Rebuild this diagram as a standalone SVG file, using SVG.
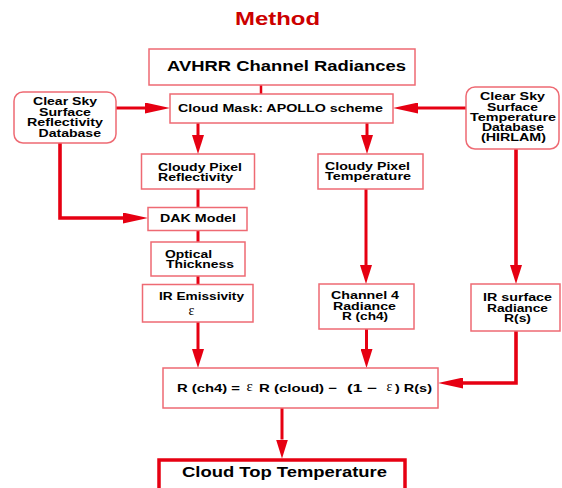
<svg xmlns="http://www.w3.org/2000/svg" width="562" height="488" viewBox="0 0 562 488">
<style>
text{font-family:"Liberation Sans",Arial,sans-serif;font-weight:bold;fill:#000}
.t{font-size:11px}
.m{font-size:10px}
.big{font-size:14px}
.eps{font-family:"Liberation Serif","Times New Roman",serif;font-weight:normal;font-size:14px}
.box{fill:#fff;stroke:#ee6a73;stroke-width:1.5}
.con{fill:none;stroke:#e60012;stroke-width:3}
.thin{stroke-width:2.5}
.thick{stroke-width:3.6}
</style>
<defs>
<marker id="ah" markerUnits="userSpaceOnUse" markerWidth="25" markerHeight="11" refX="0" refY="5.5" orient="auto"><path d="M0,0L25,5.5L0,11z" fill="#e60012"/></marker>
<marker id="av" markerUnits="userSpaceOnUse" markerWidth="19" markerHeight="12" refX="0" refY="6" orient="auto"><path d="M0,0L19,6L0,12z" fill="#e60012"/></marker>
</defs>
<rect width="562" height="488" fill="#fff"/>
<text id="title" x="235" y="25" style="font-size:18px;fill:#cc0000" textLength="85" lengthAdjust="spacingAndGlyphs">Method</text>

<g id="connectors">
<path class="con thin" d="M261,85V94"/>
<path class="con" d="M116,108H145" marker-end="url(#ah)"/>
<path class="con" d="M466,108H418" marker-end="url(#ah)"/>
<path class="con" d="M198,123V135" marker-end="url(#av)"/>
<path class="con" d="M367,123V135" marker-end="url(#av)"/>
<path class="con" d="M198,189V207.5"/>
<path class="con" d="M198,230.5V242"/>
<path class="con" d="M198,276V284.5"/>
<path class="con thick" d="M60,143V218H123" marker-end="url(#ah)"/>
<path class="con" d="M366,189V265" marker-end="url(#av)"/>
<path class="con thick" d="M516,149V265" marker-end="url(#av)"/>
<path class="con" d="M198,322V349" marker-end="url(#av)"/>
<path class="con" d="M366.5,329V349" marker-end="url(#av)"/>
<path class="con thick" d="M516,331V383H463" marker-end="url(#ah)"/>
<path class="con" d="M282,408V439.5" marker-end="url(#av)"/>
</g>

<g id="avhrr">
<rect class="box" x="149" y="49" width="266" height="36"/>
<text class="big" x="167" y="71" textLength="239" lengthAdjust="spacingAndGlyphs">AVHRR Channel Radiances</text>
</g>
<g id="cloudmask">
<rect class="box" x="170" y="94" width="223" height="29"/>
<text class="t" x="178" y="112" textLength="205" lengthAdjust="spacingAndGlyphs">Cloud Mask: APOLLO scheme</text>
</g>
<g id="refldb">
<rect class="box" x="14" y="92" width="102" height="51" rx="9"/>
<text class="m" x="33" y="105" textLength="64" lengthAdjust="spacingAndGlyphs">Clear Sky</text>
<text class="m" x="39" y="115.5" textLength="52" lengthAdjust="spacingAndGlyphs">Surface</text>
<text class="m" x="27" y="126" textLength="76" lengthAdjust="spacingAndGlyphs">Reflectivity</text>
<text class="m" x="38.5" y="136.5" textLength="62.5" lengthAdjust="spacingAndGlyphs">Database</text>
</g>
<g id="tempdb">
<rect class="box" x="466" y="87" width="93" height="62" rx="9"/>
<text class="m" x="480" y="100" textLength="65" lengthAdjust="spacingAndGlyphs">Clear Sky</text>
<text class="m" x="487" y="110.5" textLength="51" lengthAdjust="spacingAndGlyphs">Surface</text>
<text class="m" x="470" y="120.5" textLength="86" lengthAdjust="spacingAndGlyphs">Temperature</text>
<text class="m" x="482" y="131" textLength="62" lengthAdjust="spacingAndGlyphs">Database</text>
<text class="m" x="481" y="141" textLength="65" lengthAdjust="spacingAndGlyphs">(HIRLAM)</text>
</g>
<g id="cpr">
<rect class="box" x="141.5" y="154" width="113" height="35"/>
<text class="m" x="158" y="170.5" textLength="84" lengthAdjust="spacingAndGlyphs">Cloudy Pixel</text>
<text class="m" x="158" y="181" textLength="75" lengthAdjust="spacingAndGlyphs">Reflectivity</text>
</g>
<g id="cpt">
<rect class="box" x="318" y="154" width="105" height="35"/>
<text class="m" x="325" y="169.5" textLength="85" lengthAdjust="spacingAndGlyphs">Cloudy Pixel</text>
<text class="m" x="325" y="180" textLength="86" lengthAdjust="spacingAndGlyphs">Temperature</text>
</g>
<g id="dak">
<rect class="box" x="148" y="207.5" width="99" height="23"/>
<text class="t" x="160" y="222" textLength="76" lengthAdjust="spacingAndGlyphs">DAK Model</text>
</g>
<g id="optical">
<rect class="box" x="151" y="242" width="94" height="34"/>
<text class="m" x="165" y="257.5" textLength="47" lengthAdjust="spacingAndGlyphs">Optical</text>
<text class="m" x="166" y="268" textLength="68" lengthAdjust="spacingAndGlyphs">Thickness</text>
</g>
<g id="iremis">
<rect class="box" x="142.5" y="284.5" width="110.5" height="37.5"/>
<text class="t" x="159" y="300" textLength="85" lengthAdjust="spacingAndGlyphs">IR Emissivity</text>
<text class="eps" x="188.5" y="314.5">ε</text>
</g>
<g id="ch4">
<rect class="box" x="319" y="284" width="95" height="45"/>
<text class="m" x="331" y="299" textLength="68" lengthAdjust="spacingAndGlyphs">Channel 4</text>
<text class="m" x="333" y="309.5" textLength="63" lengthAdjust="spacingAndGlyphs">Radiance</text>
<text class="m" x="342" y="320" textLength="46" lengthAdjust="spacingAndGlyphs">R (ch4)</text>
</g>
<g id="irsurf">
<rect class="box" x="471" y="284" width="89" height="47"/>
<text class="m" x="483" y="301" textLength="69" lengthAdjust="spacingAndGlyphs">IR surface</text>
<text class="m" x="487" y="311.5" textLength="61" lengthAdjust="spacingAndGlyphs">Radiance</text>
<text class="m" x="504" y="322" textLength="27" lengthAdjust="spacingAndGlyphs">R(s)</text>
</g>
<g id="formula">
<rect class="box" x="163" y="368" width="275" height="40"/>
<text class="t" x="177" y="392" textLength="63" lengthAdjust="spacingAndGlyphs">R (ch4) =</text>
<text class="eps" x="246.5" y="391" style="font-size:15px">ε</text>
<text class="t" x="259" y="392" textLength="78" lengthAdjust="spacingAndGlyphs">R (cloud) −</text>
<text class="t" x="347" y="392" textLength="30" lengthAdjust="spacingAndGlyphs">(1  −</text>
<text class="eps" x="386.5" y="391">ε</text>
<text class="t" x="395" y="392" textLength="37" lengthAdjust="spacingAndGlyphs">) R(s)</text>
</g>
<g id="cloudtop">
<rect x="159" y="460" width="246" height="40" fill="#fff" stroke="#e60012" stroke-width="3.5"/>
<text class="big" x="182" y="477" textLength="205" lengthAdjust="spacingAndGlyphs">Cloud Top Temperature</text>
</g>
</svg>
